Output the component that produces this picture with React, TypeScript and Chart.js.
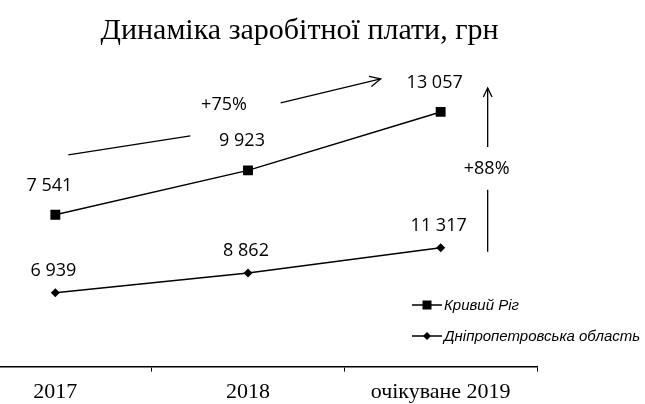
import React, { useEffect, useRef } from "react";
import { Chart, registerables } from "chart.js";

Chart.register(...registerables);

const title = "Динаміка заробітної плати, грн";
const categories = ["2017", "2018", "очікуване 2019"];
const seriesNames = ["Кривий Ріг", "Дніпропетровська область"];
const kryvyiRih = [7541, 9923, 13057];
const dnipro = [6939, 8862, 11317];
const growthLabels = ["+75%", "+88%"];

const fmt = (n: number) => String(n).replace(/\B(?=(\d{3})+(?!\d))/g, " ");

const LABEL_FONT = '18px "Open Sans"';

function arrowHead(ctx: CanvasRenderingContext2D, x1: number, y1: number, x2: number, y2: number, len: number) {
  const ang = Math.atan2(y2 - y1, x2 - x1);
  const spread = 0.45;
  ctx.beginPath();
  ctx.moveTo(x2 - len * Math.cos(ang - spread), y2 - len * Math.sin(ang - spread));
  ctx.lineTo(x2, y2);
  ctx.lineTo(x2 - len * Math.cos(ang + spread), y2 - len * Math.sin(ang + spread));
  ctx.stroke();
}

const overlay = {
  id: "overlay",
  afterDatasetsDraw(chart: any) {
    const ctx: CanvasRenderingContext2D = chart.ctx;
    const m0 = chart.getDatasetMeta(0);
    const m1 = chart.getDatasetMeta(1);
    ctx.save();
    ctx.fillStyle = "#000";
    ctx.strokeStyle = "#000";
    ctx.font = LABEL_FONT;
    ctx.textAlign = "center";
    ctx.textBaseline = "middle";
    m0.data.forEach((p: any, i: number) => ctx.fillText(fmt(kryvyiRih[i]), p.x - 6, p.y - 29));
    m1.data.forEach((p: any, i: number) => ctx.fillText(fmt(dnipro[i]), p.x - 2, p.y - 22));

    // +75% arrow
    const a = m0.data[0];
    const b = m0.data[1];
    const c = m0.data[2];
    const d = m1.data[2];
    ctx.lineWidth = 1.3;
    ctx.beginPath();
    ctx.moveTo(a.x + 13, a.y - 60);
    ctx.lineTo(a.x + 135, a.y - 79);
    ctx.stroke();
    const s2x = c.x - 160, s2y = c.y - 9, e2x = c.x - 60, e2y = c.y - 33;
    ctx.beginPath();
    ctx.moveTo(s2x, s2y);
    ctx.lineTo(e2x, e2y);
    ctx.stroke();
    arrowHead(ctx, s2x, s2y, e2x, e2y, 12);
    ctx.fillText(growthLabels[0], b.x - 24, b.y - 65);

    // +88% arrow
    const vx = c.x + 47;
    const topY = c.y - 24;
    const botY = d.y + 4;
    ctx.beginPath();
    ctx.moveTo(vx, c.y + 35);
    ctx.lineTo(vx, topY);
    ctx.stroke();
    arrowHead(ctx, vx, c.y + 35, vx, topY, 10);
    ctx.beginPath();
    ctx.moveTo(vx, d.y - 58);
    ctx.lineTo(vx, botY);
    ctx.stroke();
    ctx.fillText(growthLabels[1], vx - 1, (c.y + 35 + d.y - 58) / 2 + 1);
    ctx.restore();
  },
  afterDraw(chart: any) {
    const ctx: CanvasRenderingContext2D = chart.ctx;
    ctx.save();
    ctx.fillStyle = "#000";
    ctx.strokeStyle = "#000";
    // title
    ctx.font = '30px "Liberation Serif"';
    ctx.textAlign = "center";
    ctx.textBaseline = "alphabetic";
    ctx.fillText(title, chart.width / 2 + 1, 36);

    // legend
    const lx = chart.width - 233;
    const rows = [302, 333];
    ctx.font = 'italic 15px "Liberation Sans"';
    ctx.textAlign = "left";
    ctx.textBaseline = "middle";
    rows.forEach((y, i) => {
      ctx.lineWidth = 1.5;
      ctx.beginPath();
      ctx.moveTo(lx, y);
      ctx.lineTo(lx + 30, y);
      ctx.stroke();
      const mx = lx + 15;
      ctx.beginPath();
      if (i === 0) {
        ctx.rect(mx - 4.5, y - 4.5, 9, 9);
      } else {
        ctx.moveTo(mx, y - 4);
        ctx.lineTo(mx + 4, y);
        ctx.lineTo(mx, y + 4);
        ctx.lineTo(mx - 4, y);
        ctx.closePath();
      }
      ctx.fill();
      ctx.fillText(seriesNames[i], lx + 32, y + 1);
    });
    ctx.restore();
  },
};

export default function App() {
  const ref = useRef<HTMLCanvasElement>(null);
  useEffect(() => {
    const canvas = ref.current!;
    const chart = new Chart(canvas, {
      type: "line",
      data: {
        labels: categories,
        datasets: [
          {
            label: seriesNames[0],
            data: kryvyiRih,
            yAxisID: "y",
            borderColor: "#000",
            backgroundColor: "#000",
            borderWidth: 1.5,
            pointStyle: "rect",
            pointRadius: 7,
            pointBorderWidth: 0,
            tension: 0,
          },
          {
            label: seriesNames[1],
            data: dnipro,
            yAxisID: "y1",
            borderColor: "#000",
            backgroundColor: "#000",
            borderWidth: 1.5,
            pointStyle: "rectRot",
            pointRadius: 4.5,
            pointBorderWidth: 0,
            tension: 0,
          },
        ],
      },
      options: {
        animation: false,
        responsive: false,
        layout: { padding: { left: 0, right: 108, top: 57, bottom: 0 } },
        plugins: { legend: { display: false }, title: { display: false }, tooltip: { enabled: false } },
        scales: {
          x: {
            type: "category",
            offset: true,
            grid: { offset: true, drawOnChartArea: false, drawTicks: true, tickLength: 5, color: "#000", lineWidth: 1 },
            border: { display: true, color: "#000", width: 1.5 },
            ticks: { color: "#000", font: { family: "Liberation Serif", size: 22 }, padding: 7, maxRotation: 0 },
          },
          y: { display: false, min: -599, max: 15841 },
          y1: { display: false, min: -260, max: 29608 },
        },
      },
      plugins: [overlay],
    });
    return () => chart.destroy();
  }, []);
  return (
    <div style={{ position: "fixed", left: 0, top: 0, width: 645, height: 404, overflow: "hidden", background: "#fff" }}>
      <canvas ref={ref} width={693} height={409} style={{ position: "absolute", left: -48, top: 3, width: 693, height: 409 }} />
    </div>
  );
}
